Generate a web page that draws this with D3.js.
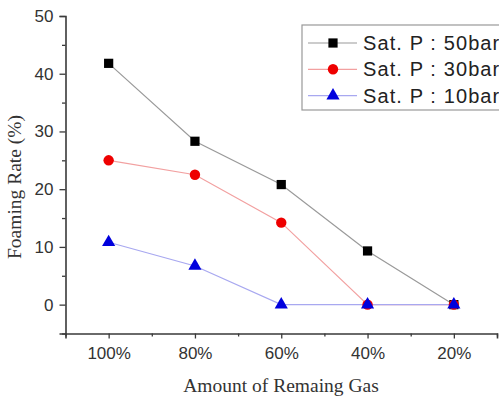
<!DOCTYPE html>
<html>
<head>
<meta charset="utf-8">
<script src="https://cdn.jsdelivr.net/npm/d3@7"></script>
<style>
  html, body { margin: 0; padding: 0; background: #fff; }
  svg { display: block; }
</style>
</head>
<body>
<svg id="chart" width="499" height="396"></svg>
<script>
const categories = ["100%", "80%", "60%", "40%", "20%"];
const series50 = [41.8, 28.3, 20.8, 9.3, 0];
const series30 = [25.0, 22.5, 14.2, 0, 0];
const series10 = [10.8, 6.7, 0, 0, 0];
const seriesNames = ["Sat. P : 50bar", "Sat. P : 30bar", "Sat. P : 10bar"];
const yTicks = [0, 10, 20, 30, 40, 50];
const yMinorTicks = [-5, 5, 15, 25, 35, 45];

(function () {
const svg = d3.select("#chart");
const mLeft = 65.5, mRight = 497, mTop = 16, mBottom = 333.5;

const x = d3.scaleLinear().domain([-0.5, 4.5]).range([mLeft, mRight]);
const y = d3.scaleLinear().domain([-5, 50]).range([mBottom, mTop]);

const axisColor = "#3a3a3a";

// Y axis
svg.append("g").attr("transform", `translate(${mLeft},0)`)
  .call(d3.axisLeft(y).tickValues(yTicks).tickSize(6).tickPadding(6).tickFormat(d3.format("d")));
svg.append("g").attr("transform", `translate(${mLeft},0)`)
  .call(d3.axisLeft(y).tickValues(yMinorTicks).tickSize(3.5).tickFormat(""))
  .call(g => g.select(".domain").remove());

// X axis
svg.append("g").attr("transform", `translate(0,${mBottom})`)
  .call(d3.axisBottom(x).tickValues(d3.range(categories.length)).tickSize(5).tickPadding(8)
    .tickFormat(i => categories[i]));
svg.append("g").attr("transform", `translate(0,${mBottom})`)
  .call(d3.axisBottom(x).tickValues(d3.range(-0.5, 4.51, 1)).tickSize(3).tickFormat(""))
  .call(g => g.select(".domain").remove());

svg.selectAll(".domain").attr("stroke", axisColor).attr("stroke-width", 1.6);
svg.selectAll(".tick line").attr("stroke", axisColor).attr("stroke-width", 1.3);
svg.selectAll(".tick text")
  .attr("fill", "#333")
  .style("font-family", "'Liberation Sans', Arial, sans-serif")
  .style("font-size", "17px");

// Axis titles
svg.append("text")
  .attr("transform", `translate(21,187) rotate(-90)`)
  .attr("text-anchor", "middle")
  .style("font-family", "'Liberation Serif', 'Times New Roman', serif")
  .style("font-size", "19.5px")
  .attr("fill", "#333")
  .text("Foaming Rate (%)");
svg.append("text")
  .attr("x", 281).attr("y", 392)
  .attr("text-anchor", "middle")
  .style("font-family", "'Liberation Serif', 'Times New Roman', serif")
  .style("font-size", "19.5px")
  .attr("fill", "#333")
  .text("Amount of Remaing Gas");

const seriesDefs = [
  { name: seriesNames[0], values: series50, line: "#9a9a9a", fill: "#000", shape: d3.symbolSquare, size: 85 },
  { name: seriesNames[1], values: series30, line: "#f2a0a0", fill: "#ee0000", shape: d3.symbolCircle, size: 85 },
  { name: seriesNames[2], values: series10, line: "#a8a8f0", fill: "#0000dd", shape: d3.symbolTriangle, size: 75 }
];

const lineGen = d3.line().x((d, i) => x(i)).y(d => y(d));

seriesDefs.forEach(s => {
  svg.append("path").datum(s.values)
    .attr("d", lineGen).attr("fill", "none")
    .attr("stroke", s.line).attr("stroke-width", 1.2);
});
seriesDefs.forEach(s => {
  svg.append("g").selectAll("path").data(s.values).join("path")
    .attr("transform", (d, i) => `translate(${x(i)},${y(d)})`)
    .attr("d", d3.symbol().type(s.shape).size(s.size))
    .attr("fill", s.fill);
});

// Legend
const lg = svg.append("g");
lg.append("rect").attr("x", 302).attr("y", 25).attr("width", 210).attr("height", 85)
  .attr("fill", "#fff").attr("stroke", "#999").attr("stroke-width", 1.2);
seriesDefs.forEach((s, k) => {
  const cy = 43 + k * 26.3;
  lg.append("line").attr("x1", 308).attr("x2", 357).attr("y1", cy).attr("y2", cy)
    .attr("stroke", s.line).attr("stroke-width", 1.2);
  lg.append("path").attr("transform", `translate(333,${cy})`)
    .attr("d", d3.symbol().type(s.shape).size(s.size)).attr("fill", s.fill);
  lg.append("text").attr("x", 363).attr("y", cy + 7)
    .style("font-family", "'Liberation Sans', Arial, sans-serif")
    .style("font-size", "20px")
    .style("letter-spacing", "1.1px")
    .attr("fill", "#222")
    .text(s.name);
});
})();
</script>
</body>
</html>
